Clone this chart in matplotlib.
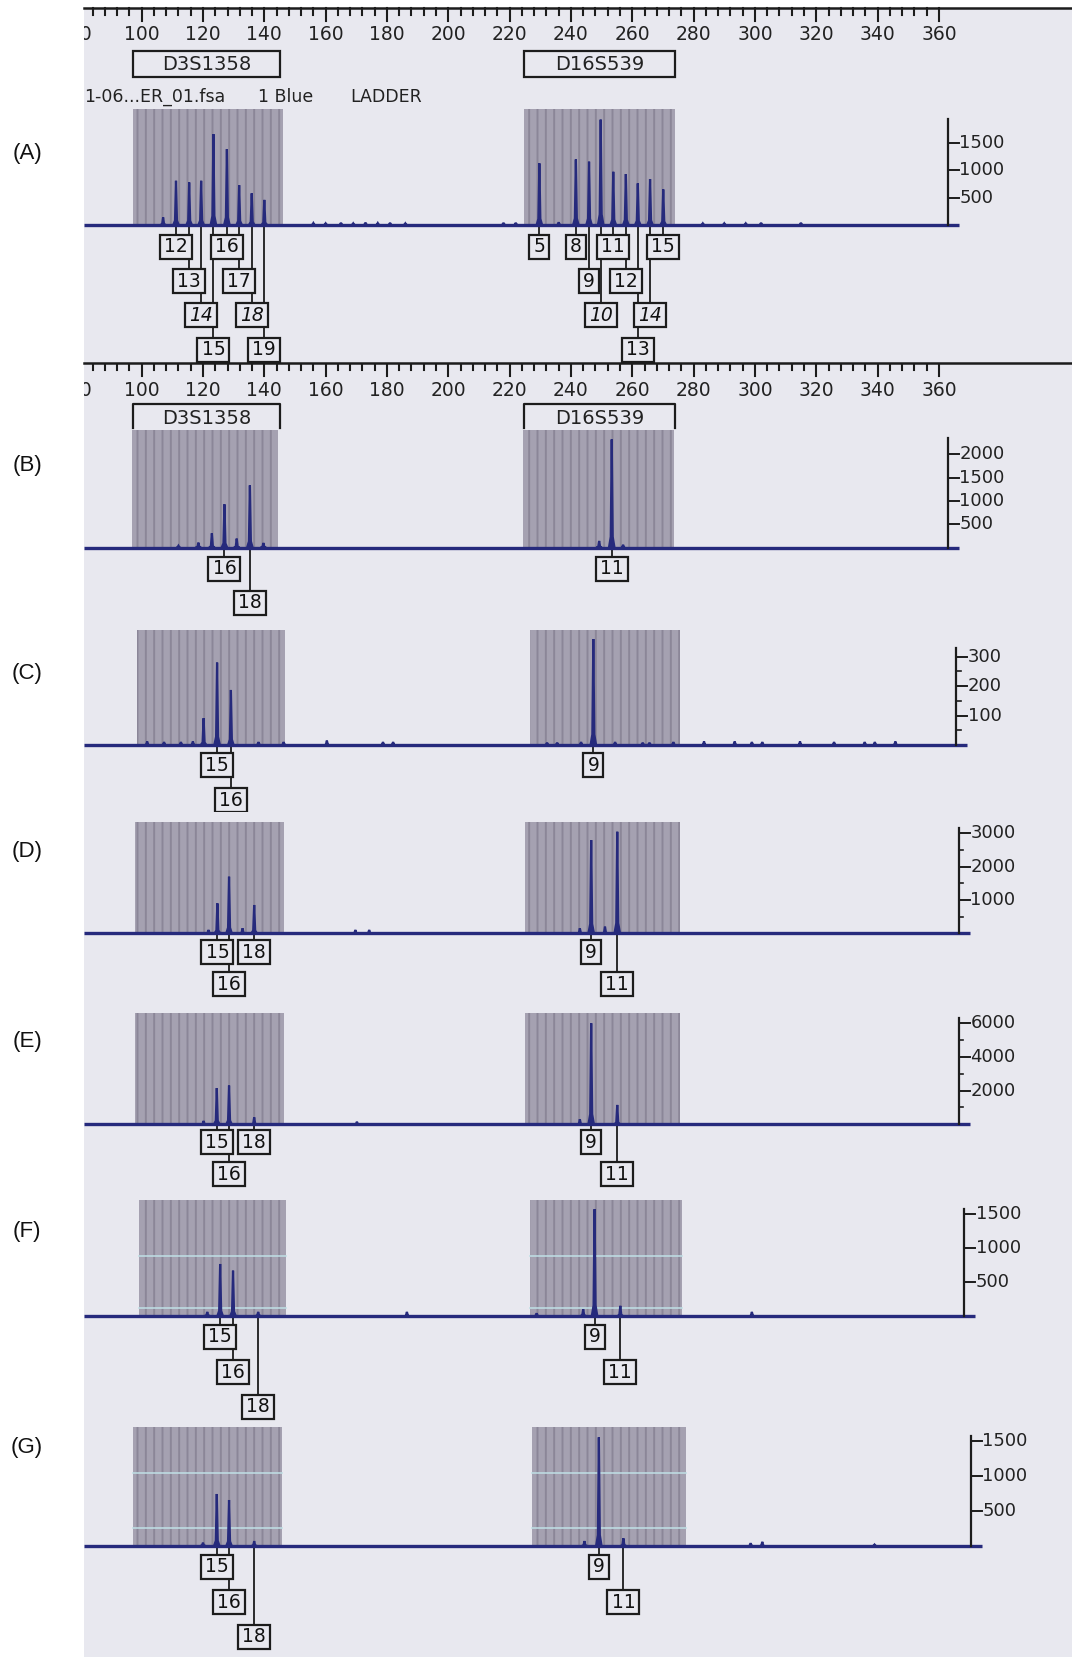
import matplotlib
matplotlib.use("Agg")
import matplotlib.pyplot as plt
from matplotlib.patches import Rectangle

plt.rcParams['font.family'] = ['DejaVu Sans']
plt.rcParams['hatch.linewidth'] = 1.4

W, H = 1072, 1657
PX_LEFT = 84
BP_LEFT, BP_RIGHT = 81.2, 403.4
PX_PER_BP = (W - PX_LEFT) / (BP_RIGHT - BP_LEFT)

BG = "#e8e8ef"
BIN = "#a5a1b1"
STREAK = "#8b8698"
TRACE = "#262a7c"
INK = "#1c1c1c"

# ---------------- data (size in bp, height in RFU) ----------------
ruler_labels = list(range(80, 361, 20))
marker_names = ["D3S1358", "D16S539"]
marker_span = [(97.3, 145.1), (224.6, 274.0)]

# (A) allelic ladder
A_pos = [107.0, 111.2, 115.5, 119.4, 123.4, 127.8, 131.8, 135.9, 140.0,
         229.7, 241.6, 245.9, 249.7, 253.8, 257.9, 261.8, 265.8, 270.1]
A_rfu = [140, 810, 780, 810, 1665, 1390, 730, 580, 460,
         1130, 1200, 1160, 1930, 975, 933, 762, 841, 652]
A_noise_pos = [156, 160, 165, 169, 173, 177, 181, 186, 218, 222, 236, 283, 290, 297, 302, 315]
A_noise_rfu = [35, 30, 40, 30, 45, 35, 40, 30, 40, 40, 50, 30, 30, 30, 40, 40]
A_alleles = ["12", "13", "14", "15", "16", "17", "18", "19",
             "5", "8", "9", "10", "11", "12", "13", "14", "15"]
A_allele_pos = [111.2, 115.5, 119.4, 123.4, 127.8, 131.8, 135.9, 140.0,
                229.7, 241.6, 245.9, 249.7, 253.8, 257.9, 261.8, 265.8, 270.1]
A_rows = [0, 1, 2, 3, 0, 1, 2, 3, 0, 0, 1, 2, 0, 1, 3, 2, 0]
A_italic = [0, 0, 1, 0, 0, 0, 1, 0, 0, 0, 0, 1, 0, 0, 0, 1, 0]
A_bins = [(97.1, 146.0), (224.7, 273.9)]
A_ticks = [500, 1000, 1500]

# (B)
B_pos = [118.5, 122.9, 127.0, 131.0, 135.3, 139.7, 249.2, 253.3]
B_rfu = [107, 307, 929, 193, 1336, 100, 143, 2321]
B_noise_pos = [112.0, 257.0]
B_noise_rfu = [40, 60]
B_alleles = ["16", "18", "11"]
B_allele_pos = [127.0, 135.3, 253.3]
B_rows = [0, 1, 0]
B_bins = [(96.7, 144.5), (224.3, 273.6)]
B_ticks = [500, 1000, 1500, 2000]

# (C)
C_pos = [120.2, 124.6, 129.1, 247.3]
C_rfu = [91, 280, 187, 360]
C_noise_pos = [101.8, 107.3, 112.8, 116.7, 138.1, 146.3, 160.4, 178.7, 182.0,
               232.2, 235.5, 243.3, 254.4, 263.4, 265.6, 273.4, 283.4, 293.4,
               299.0, 302.4, 314.7, 325.8, 335.8, 339.1, 345.8]
C_noise_rfu = [12, 10, 10, 12, 10, 10, 15, 10, 10, 8, 8, 10, 10, 8, 8, 10,
               12, 12, 10, 10, 12, 10, 10, 10, 12]
C_alleles = ["15", "16", "9"]
C_allele_pos = [124.6, 129.1, 247.3]
C_rows = [0, 1, 0]
C_bins = [(98.6, 146.9), (226.5, 275.6)]
C_ticks = [100, 200, 300]
C_minor = [50, 150, 250]

# (D)
D_pos = [121.8, 124.7, 128.5, 132.9, 136.7, 242.9, 246.6, 251.1, 255.1]
D_rfu = [100, 900, 1700, 150, 850, 150, 2800, 200, 3050]
D_noise_pos = [169.7, 174.2]
D_noise_rfu = [100, 100]
D_alleles = ["15", "18", "16", "9", "11"]
D_allele_pos = [124.7, 136.7, 128.5, 246.6, 255.1]
D_rows = [0, 0, 1, 0, 1]
D_bins = [(97.7, 146.3), (225.0, 275.6)]
D_ticks = [1000, 2000, 3000]
D_minor = [500, 1500, 2500]

# (E)
E_pos = [120.2, 124.5, 128.5, 136.7, 242.9, 246.6, 255.1]
E_rfu = [200, 2150, 2300, 415, 300, 6000, 1150]
E_noise_pos = [170.2]
E_noise_rfu = [150]
E_alleles = ["15", "18", "16", "9", "11"]
E_allele_pos = [124.5, 136.7, 128.5, 246.6, 255.1]
E_rows = [0, 0, 1, 0, 1]
E_bins = [(97.7, 146.3), (225.0, 275.6)]
E_ticks = [2000, 4000, 6000]
E_minor = [1000, 3000, 5000]

# (F)
F_pos = [121.4, 125.6, 129.8, 138.0, 244.0, 247.7, 256.1]
F_rfu = [60, 765, 667, 60, 100, 1570, 150]
F_noise_pos = [186.5, 228.8, 299.0]
F_noise_rfu = [60, 40, 60]
F_alleles = ["15", "16", "18", "9", "11"]
F_allele_pos = [125.6, 129.8, 138.0, 247.7, 256.1]
F_rows = [0, 1, 2, 0, 1]
F_bins = [(99.1, 147.0), (226.6, 276.3)]
F_ticks = [500, 1000, 1500]
F_cyan = [882, 118]

# (G)
G_pos = [120.0, 124.5, 128.5, 136.7, 244.4, 249.1, 257.1]
G_rfu = [48, 743, 657, 70, 70, 1553, 110]
G_noise_pos = [298.6, 302.4, 339.0]
G_noise_rfu = [40, 60, 20]
G_alleles = ["15", "16", "18", "9", "11"]
G_allele_pos = [124.5, 128.5, 136.7, 249.1, 257.1]
G_rows = [0, 1, 2, 0, 1]
G_bins = [(97.3, 145.9), (227.2, 277.4)]
G_ticks = [500, 1000, 1500]
G_cyan = [1039, 253]

# ---------------- layout (figure pixels) ----------------
panels = [
    dict(name="(A)", top=0, bottom=363, base=225, scale=27.3 / 500, label_y=153,
         pos=A_pos, rfu=A_rfu, npos=A_noise_pos, nrfu=A_noise_rfu,
         alleles=A_alleles, apos=A_allele_pos, rows=A_rows, italic=A_italic,
         bins=A_bins, bin_top=109, axis=362.8, ticks=A_ticks, minor=[], ytop=1950,
         row0=22, gap=34.2, ruler=8, markers="box", cyan=[]),
    dict(name="(B)", top=363, bottom=620, base=547.6, scale=23.3 / 500, label_y=465,
         pos=B_pos, rfu=B_rfu, npos=B_noise_pos, nrfu=B_noise_rfu,
         alleles=B_alleles, apos=B_allele_pos, rows=B_rows, italic=None,
         bins=B_bins, bin_top=430, axis=362.8, ticks=B_ticks, minor=[], ytop=2350,
         row0=21, gap=34, ruler=363, markers="bracket", cyan=[]),
    dict(name="(C)", top=620, bottom=812, base=745, scale=88.3 / 300, label_y=673,
         pos=C_pos, rfu=C_rfu, npos=C_noise_pos, nrfu=C_noise_rfu,
         alleles=C_alleles, apos=C_allele_pos, rows=C_rows, italic=None,
         bins=C_bins, bin_top=630, axis=365.6, ticks=C_ticks, minor=C_minor, ytop=330,
         row0=20, gap=35, ruler=None, markers=None, cyan=[]),
    dict(name="(D)", top=812, bottom=1003, base=933.3, scale=33.3 / 1000, label_y=851,
         pos=D_pos, rfu=D_rfu, npos=D_noise_pos, nrfu=D_noise_rfu,
         alleles=D_alleles, apos=D_allele_pos, rows=D_rows, italic=None,
         bins=D_bins, bin_top=822, axis=366.4, ticks=D_ticks, minor=D_minor, ytop=3150,
         row0=19, gap=32, ruler=None, markers=None, cyan=[]),
    dict(name="(E)", top=1003, bottom=1192, base=1124.3, scale=33.7 / 2000, label_y=1041,
         pos=E_pos, rfu=E_rfu, npos=E_noise_pos, nrfu=E_noise_rfu,
         alleles=E_alleles, apos=E_allele_pos, rows=E_rows, italic=None,
         bins=E_bins, bin_top=1013, axis=366.4, ticks=E_ticks, minor=E_minor, ytop=6300,
         row0=18, gap=32, ruler=None, markers=None, cyan=[]),
    dict(name="(F)", top=1192, bottom=1424, base=1316, scale=34 / 500, label_y=1232,
         pos=F_pos, rfu=F_rfu, npos=F_noise_pos, nrfu=F_noise_rfu,
         alleles=F_alleles, apos=F_allele_pos, rows=F_rows, italic=None,
         bins=F_bins, bin_top=1200, axis=368.1, ticks=F_ticks, minor=[], ytop=1580,
         row0=21, gap=35, ruler=None, markers=None, cyan=F_cyan),
    dict(name="(G)", top=1424, bottom=1657, base=1546, scale=35 / 500, label_y=1448,
         pos=G_pos, rfu=G_rfu, npos=G_noise_pos, nrfu=G_noise_rfu,
         alleles=G_alleles, apos=G_allele_pos, rows=G_rows, italic=None,
         bins=G_bins, bin_top=1427, axis=370.3, ticks=G_ticks, minor=[], ytop=1570,
         row0=21, gap=35, ruler=None, markers=None, cyan=G_cyan),
]


def px2y(p, px):
    # figure pixel row -> RFU value in this panel
    return (p["base"] - px) / p["scale"]


def draw_peak(ax, x, h, half=0.9):
    xs = [x - half, x - 0.32, x, x + 0.32, x + half]
    ys = [0, h * 0.1, h, h * 0.1, 0]
    ax.fill(xs, ys, facecolor=TRACE, edgecolor=TRACE, lw=1.6, zorder=5)


fig = plt.figure(figsize=(W / 100, H / 100), dpi=100)
fig.patch.set_facecolor("white")
fig.patches.append(Rectangle((PX_LEFT / W, 0), 1 - PX_LEFT / W, 1 - 8 / H,
                             transform=fig.transFigure, facecolor=BG,
                             edgecolor="none", zorder=-10))

for p in panels:
    ax = fig.add_axes([PX_LEFT / W, 1 - p["bottom"] / H, 1 - PX_LEFT / W,
                       (p["bottom"] - p["top"]) / H])
    ax.set_xlim(BP_LEFT, BP_RIGHT)
    ax.set_ylim(px2y(p, p["bottom"]), px2y(p, p["top"]))
    ax.axis("off")

    # panel letter in the white margin
    fig.text(27 / W, 1 - p["label_y"] / H, p["name"], ha="center", va="center",
             fontsize=16, family="Liberation Sans", color="#111111")

    # shaded bins
    for x0, x1 in p["bins"]:
        ax.add_patch(Rectangle((x0, 0), x1 - x0, px2y(p, p["bin_top"]),
                               facecolor=BIN, edgecolor=STREAK, hatch="||",
                               lw=0, zorder=1))
        for v in p["cyan"]:
            ax.plot([x0, x1], [v, v], color="#bfe0e6", lw=1.3, alpha=0.85, zorder=2)

    # trace
    for x, h in zip(p["npos"], p["nrfu"]):
        draw_peak(ax, x, h, half=0.6)
    for x, h in zip(p["pos"], p["rfu"]):
        draw_peak(ax, x, h)

    # y axis on the right
    tick = 11 / PX_PER_BP
    ax.plot([BP_LEFT, p["axis"] + tick], [0, 0], color=TRACE, lw=2.4, zorder=6,
            solid_capstyle="butt")
    ax.plot([p["axis"], p["axis"]], [0, p["ytop"]], color=INK, lw=1.6, zorder=6)
    for t in p["ticks"]:
        ax.plot([p["axis"], p["axis"] + tick], [t, t], color=INK, lw=1.4, zorder=6)
        ax.text(p["axis"] + tick + 0.3, t, str(t), ha="left", va="center",
                fontsize=13, color="#222222")
    for t in p["minor"]:
        ax.plot([p["axis"], p["axis"] + tick * 0.45], [t, t], color=INK, lw=1.2)

    # allele label boxes with leader lines
    for i, (lab, x, r) in enumerate(zip(p["alleles"], p["apos"], p["rows"])):
        yc = p["base"] + p["row0"] + r * p["gap"]
        bw = (20 if len(lab) == 1 else 32) / PX_PER_BP
        top_y = px2y(p, yc - 12)
        ax.plot([x, x], [0, top_y], color=INK, lw=1.3, zorder=3)
        ax.add_patch(Rectangle((x - bw / 2, px2y(p, yc + 12)), bw,
                               top_y - px2y(p, yc + 12), facecolor=BG,
                               edgecolor=INK, lw=1.6, zorder=4))
        it = p["italic"] is not None and p["italic"][i]
        ax.text(x, px2y(p, yc), lab, ha="center", va="center", fontsize=13.5,
                style="italic" if it else "normal", color="#111111", zorder=7)

    # size ruler
    if p["ruler"] is not None:
        y0 = px2y(p, p["ruler"])
        ax.plot([BP_LEFT, BP_RIGHT], [y0, y0], color=INK, lw=1.8, clip_on=False)
        for t in range(80, 361, 4):
            y1 = px2y(p, p["ruler"] + (13 if t % 20 == 0 else 7))
            ax.plot([t, t], [y0, y1], color=INK, lw=1.5)
        for t in ruler_labels:
            ax.text(t, px2y(p, p["ruler"] + 27), str(t), ha="center", va="center",
                    fontsize=13.5, color="#222222", clip_on=True)

    # marker names
    if p["markers"] == "box":
        for name, (x0, x1) in zip(marker_names, marker_span):
            ax.add_patch(Rectangle((x0, px2y(p, 77)), x1 - x0, px2y(p, 51) - px2y(p, 77),
                                   facecolor="none", edgecolor=INK, lw=1.6))
            ax.text((x0 + x1) / 2, px2y(p, 64), name, ha="center", va="center",
                    fontsize=14, color="#222222")
        ax.text(BP_LEFT + 0.2, px2y(p, 97), "1-06...ER_01.fsa", ha="left", va="center",
                fontsize=12.5, color="#222222", clip_on=True)
        ax.text(BP_LEFT + (258 - PX_LEFT) / PX_PER_BP, px2y(p, 97), "1 Blue",
                ha="left", va="center", fontsize=12.5, color="#222222")
        ax.text(BP_LEFT + (350 - PX_LEFT) / PX_PER_BP, px2y(p, 97), "LADDER",
                ha="left", va="center", fontsize=12.5, color="#222222")
    elif p["markers"] == "bracket":
        yb, ye = px2y(p, 404), px2y(p, 428)
        for name, (x0, x1) in zip(marker_names, marker_span):
            ax.plot([x0, x0, x1, x1], [ye, yb, yb, ye], color=INK, lw=1.6)
            ax.text((x0 + x1) / 2, px2y(p, 419), name, ha="center", va="center",
                    fontsize=14, color="#222222")

fig.savefig("out.png", dpi=100, facecolor=fig.get_facecolor())
